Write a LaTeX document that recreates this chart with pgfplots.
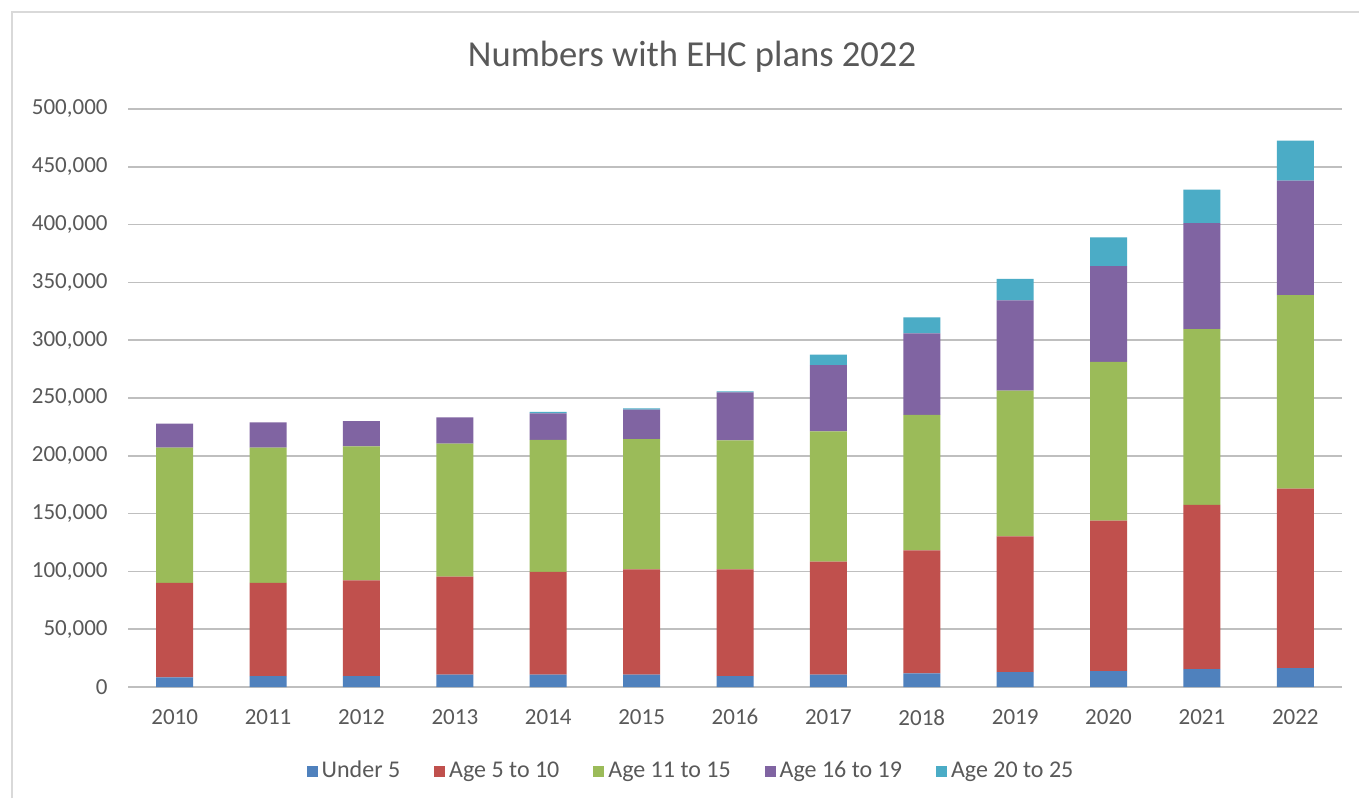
\documentclass[border=0pt]{standalone}
\usepackage{fontspec}
\setmainfont{Carlito}
\usepackage{pgfplots}
\pgfplotsset{compat=1.18}
\usepackage{pgfplotstable}
\definecolor{cblue}{HTML}{4F81BD}
\definecolor{cred}{HTML}{C0504D}
\definecolor{cgreen}{HTML}{9BBB59}
\definecolor{cpurple}{HTML}{8064A2}
\definecolor{ccyan}{HTML}{4BACC6}
\definecolor{txt}{HTML}{595959}
\definecolor{grid}{HTML}{D9D9D9}
\pgfplotstableread{
x  u5    a510   a1115  a1619  a2025
0  8400  81600  117000 20800  0
1  9500  80500  117000 22000  0
2  9500  82800  115900 21800  0
3  10700 84700  115100 22800  0
4  10700 89000  114000 23000  1200
5  10700 91100  112700 25400  1200
6  9500  92300  111600 41500  900
7  10700 97700  112800 57300  9000
8  11800 106400 117100 70600  13900
9  12800 117600 125900 78200  18600
10 13800 130100 137400 82700  25000
11 15400 142200 151900 91700  29100
12 16300 155400 167300 99000  34600
}\datatable
\begin{document}
\begin{tikzpicture}
\useasboundingbox (0,0) rectangle (679.5pt,399pt);
\fill[white] (0,0) rectangle (679.5pt,399pt);
\draw[grid, line width=1pt] (6pt,0) -- (6pt,393pt) -- (679.5pt,393pt);
\node[text=txt, font=\fontsize{18.3pt}{21pt}\selectfont] at (346pt,370.5pt) {Numbers with EHC plans 2022};
\begin{axis}[
  at={(64pt,55.5pt)}, anchor=south west,
  scale only axis, width=607pt, height=289pt,
  ybar stacked, bar width=18.5pt,
  xmin=-0.5, xmax=12.5, ymin=0, ymax=500000,
  xtick=data,
  xticklabels={2010,2011,2012,2013,2014,2015,2016,2017,2018,2019,2020,2021,2022},
  ytick={0,50000,...,500000},
  scaled y ticks=false,
  yticklabel style={/pgf/number format/.cd, fixed, 1000 sep={,}, assume math mode=true},
  tick label style={font=\fontsize{11.5pt}{13pt}\selectfont, text=txt, inner sep=0pt},
  yticklabel shift=10pt,
  xticklabel shift=11pt,
  major tick length=0pt,
  tick style={draw=none},
  axis line style={draw=none},
  xmajorgrids=false, xminorgrids=false,
  ymajorgrids=true, grid style={grid, line width=0.8pt},
  legend columns=-1,
  legend style={at={(rel axis cs:0.4646,0)}, anchor=center, yshift=-42pt, draw=none,
    font=\fontsize{12pt}{14pt}\selectfont, text=txt,
    /tikz/every even column/.append style={column sep=15pt}},
  legend image code/.code={\path[#1,draw=none] (0pt,-2.75pt) rectangle (5.5pt,2.75pt);},
]
\addplot[fill=cblue, draw=none] table[x=x, y=u5] {\datatable};
\addplot[fill=cred, draw=none] table[x=x, y=a510] {\datatable};
\addplot[fill=cgreen, draw=none] table[x=x, y=a1115] {\datatable};
\addplot[fill=cpurple, draw=none] table[x=x, y=a1619] {\datatable};
\addplot[fill=ccyan, draw=none] table[x=x, y=a2025] {\datatable};
\legend{Under 5, Age 5 to 10, Age 11 to 15, Age 16 to 19, Age 20 to 25}
\end{axis}
\end{tikzpicture}
\end{document}
